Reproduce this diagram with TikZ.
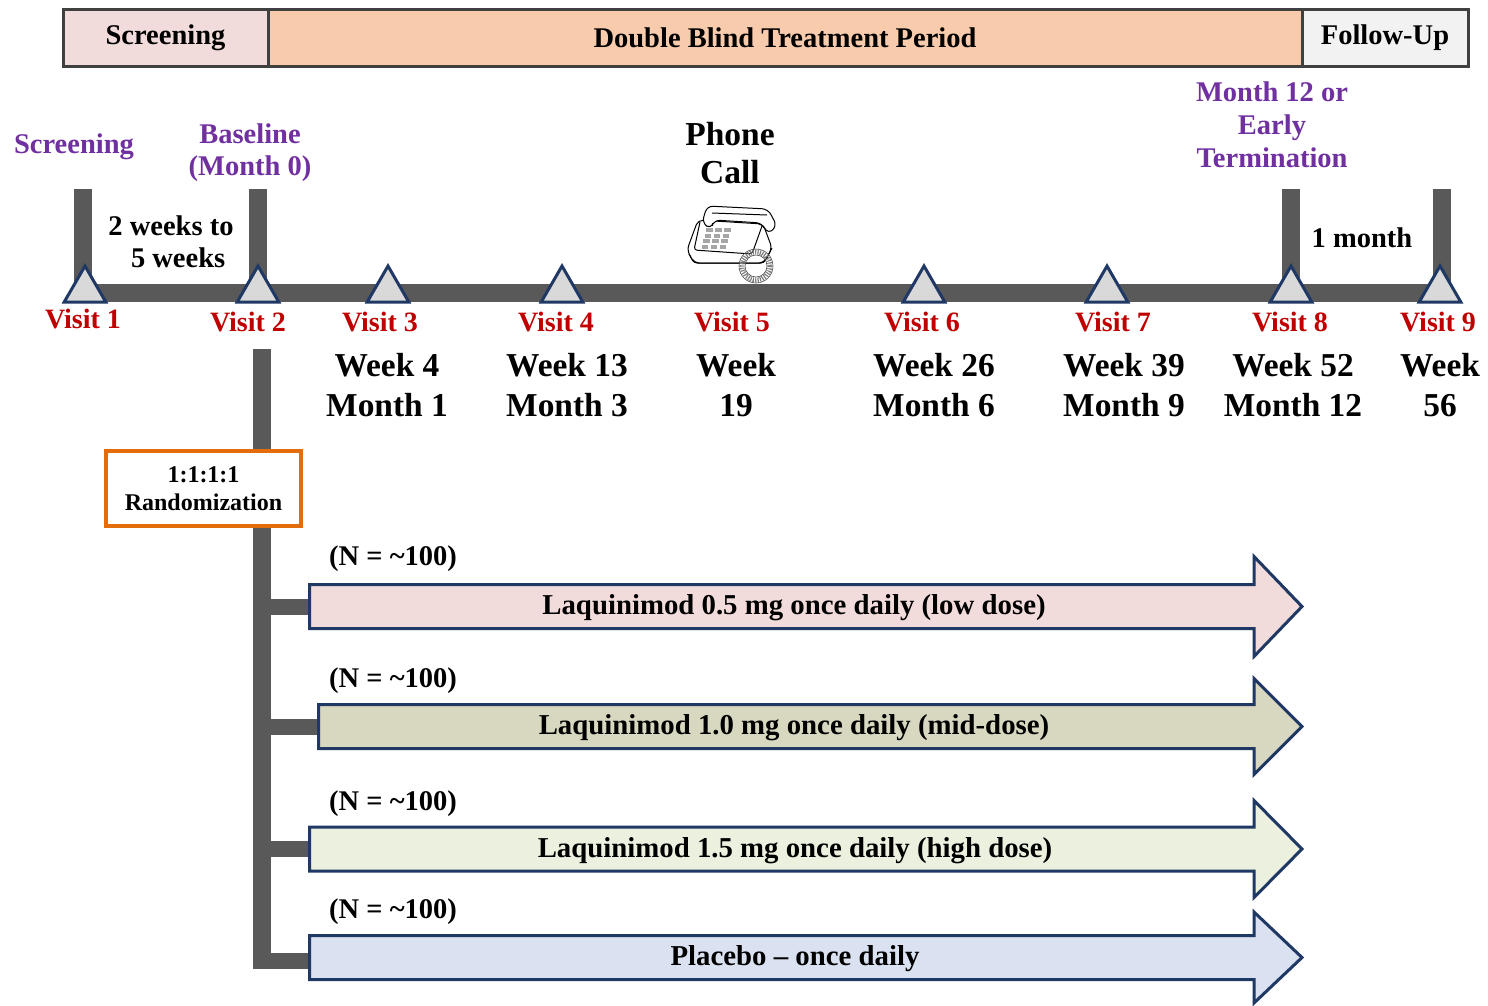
\documentclass[tikz,border=0pt]{standalone}
\usepackage{fontspec}
\setmainfont{Liberation Serif}
\usetikzlibrary{shapes.geometric}
\definecolor{bargray}{HTML}{595959}
\definecolor{phaseborder}{HTML}{404040}
\definecolor{pinkf}{HTML}{F2DCDB}
\definecolor{peachf}{HTML}{F8CBAD}
\definecolor{follf}{HTML}{F2F2F2}
\definecolor{navy}{HTML}{1F3864}
\definecolor{trigray}{HTML}{D9D9D9}
\definecolor{visred}{HTML}{C00000}
\definecolor{purp}{HTML}{7030A0}
\definecolor{orng}{HTML}{E46C0A}
\definecolor{olivef}{HTML}{D8D7BF}
\definecolor{greenf}{HTML}{EBF1DE}
\definecolor{bluef}{HTML}{DAE1F0}
\newcommand\treatarrow[5]{%
  \draw[armbox, fill=#4] (#1,{#2-22}) -- (1254,{#2-22}) -- (1254,{#2-#5}) -- (1302,#2)
    -- (1254,{#2+#5}) -- (1254,{#2+22}) -- (#1,{#2+22}) -- cycle;}
\tikzset{
  bar/.style={draw=bargray, line width=18},
  stub/.style={draw=bargray, line width=16},
  phase/.style={draw=phaseborder, line width=3, inner sep=0, minimum height=57,
    font=\fontsize{28.5}{33}\selectfont\bfseries},
  tri/.style={regular polygon, regular polygon sides=3, minimum size=48, inner sep=0,
    fill=trigray, draw=navy, line width=3},
  visit/.style={text=visred, inner sep=0, font=\fontsize{28}{33}\selectfont\bfseries},
  purplbl/.style={text=purp, inner sep=0, align=center, font=\fontsize{28.5}{33}\selectfont\bfseries},
  weeklbl/.style={inner sep=0, align=center, font=\fontsize{33.4}{40}\selectfont\bfseries},
  phonelbl/.style={inner sep=0, align=center, font=\fontsize{33.5}{38}\selectfont\bfseries},
  gaplbl/.style={inner sep=0, align=center, font=\fontsize{28.5}{32}\selectfont\bfseries},
  randbox/.style={draw=orng, line width=4, fill=white, minimum width=195, minimum height=75,
    inner sep=0, align=center, font=\fontsize{24}{28}\selectfont\bfseries},
  nlbl/.style={inner sep=0, anchor=west, font=\fontsize{28.5}{30}\selectfont\bfseries},
  armbox/.style={draw=navy, line width=3, line join=miter},
  armtxt/.style={inner sep=0, font=\fontsize{28.8}{30}\selectfont\bfseries},
  phoneline/.style={draw=black, line width=1, line join=round},
}
\begin{document}
\begin{tikzpicture}[x=1pt,y=-1pt]
\useasboundingbox (0,0) rectangle (1488,1005);
\fill[white] (0,0) rectangle (1488,1005);

% ---- phase bar ----
\node[phase, fill=peachf, minimum width=1034] (ph2) at (785,37.5) {Double Blind Treatment Period};
\node[phase, fill=pinkf, minimum width=205] (ph1) at (165.5,37.5) {Screening};
\node[phase, fill=follf, minimum width=166] (ph3) at (1385,37.5) {Follow-Up};

% ---- timeline ----
\coordinate (t1top) at (83,189);
\coordinate (t1) at (83,293);
\coordinate (t2top) at (258,189);
\coordinate (t2) at (258,293);
\coordinate (t8top) at (1291,189);
\coordinate (t8) at (1291,293);
\coordinate (t9top) at (1442,189);
\coordinate (t9) at (1442,293);
\draw[bar, line join=miter] (t1top) -- (t1) -- (t9) -- (t9top);
\draw[bar] (t2top) -- (t2);
\draw[bar] (t8top) -- (t8);

\node[tri] (v1) at (85,290) {};
\node[tri] (v2) at (258,290) {};
\node[tri] (v3) at (388,290) {};
\node[tri] (v4) at (562,290) {};
\node[tri] (v6) at (924,290) {};
\node[tri] (v7) at (1107,290) {};
\node[tri] (v8) at (1291,290) {};
\node[tri] (v9) at (1440,290) {};

% ---- phone ----
\draw[phoneline, fill=white, rounded corners=5] (687,250) -- (698,220) -- (763,224) -- (772,248) -- (764,263) -- (694,263) -- cycle;
\draw[phoneline, rounded corners=3] (689,254) -- (694,263) -- (764,263) -- (772,248);
\draw[phoneline, rounded corners=3] (700,222) -- (694,250) -- (752,254) -- (762,226);
\foreach \r in {0,1,2,3}{
  \foreach \c in {0,1,2}{
    \fill[gray!70] ({706+\c*9+\r*-1.5},{228+\r*5.5}) rectangle ++(6.5,4);
  }
}
\draw[phoneline, fill=white, rounded corners=6] (702,223) -- (707,206) -- (768,209) -- (777,226) -- (768,234) -- (762,223) -- (714,220) -- (711,229) -- cycle;
\draw[phoneline] (712,213) -- (767,215);
\draw[gray, line width=5, dash pattern=on 1.2 off 1.2] (756,266) circle (14);
\draw[black!70, line width=0.6] (756,266) circle (17);
\draw[black!70, line width=0.6] (756,266) circle (11);

% ---- top labels ----
\node[purplbl] (lscr) at (74,147) {Screening};
\node[purplbl, font=\fontsize{28.5}{32}\selectfont\bfseries] (lbase) at (250,153) {Baseline\\(Month 0)};
\node[purplbl] (lterm) at (1272,125) {Month 12 or\\Early\\Termination};
\node[phonelbl] (lphone) at (730,153) {Phone\\Call};
\node[gaplbl] (lgap1) at (171,242) {2 weeks to\\\ \ 5 weeks};
\node[gaplbl] (lgap2) at (1362,238) {1 month};

% ---- visit labels ----
\node[visit] (n1) at (83,319) {Visit 1};
\node[visit] (n2) at (248,322) {Visit 2};
\node[visit] (n3) at (380,322) {Visit 3};
\node[visit] (n4) at (556,322) {Visit 4};
\node[visit] (n5) at (732,322) {Visit 5};
\node[visit] (n6) at (922,322) {Visit 6};
\node[visit] (n7) at (1113,322) {Visit 7};
\node[visit] (n8) at (1290,322) {Visit 8};
\node[visit] (n9) at (1438,322) {Visit 9};

% ---- week labels ----
\node[weeklbl] (w3) at (387,385) {Week 4\\Month 1};
\node[weeklbl] (w4) at (567,385) {Week 13\\Month 3};
\node[weeklbl] (w5) at (736,385) {Week\\19};
\node[weeklbl] (w6) at (934,385) {Week 26\\Month 6};
\node[weeklbl] (w7) at (1124,385) {Week 39\\Month 9};
\node[weeklbl] (w8) at (1293,385) {Week 52\\Month 12};
\node[weeklbl] (w9) at (1440,385) {Week\\56};

% ---- randomisation tree ----
\coordinate (tt) at (262,349);
\coordinate (tb) at (262,969);
\node[randbox] (rand) at (203.5,488.5) {1:1:1:1\\Randomization};
\draw[bar] (tt) -- (tt |- rand.north);
\draw[bar] (tt |- rand.south) -- (tb);

\coordinate (s1) at (262,606.5);
\coordinate (s2) at (262,726.5);
\coordinate (s3) at (262,849);
\coordinate (s4) at (262,961);
\coordinate (a1w) at (312,606.5);
\coordinate (a2w) at (321,726.5);
\coordinate (a3w) at (312,849);
\coordinate (a4w) at (312,961);
\draw[stub] (s1) -- (a1w);
\draw[stub] (s2) -- (a2w);
\draw[stub] (s3) -- (a3w);
\draw[stub] (s4) -- (a4w);

\treatarrow{309.5}{606.5}{0}{pinkf}{50}
\treatarrow{318.5}{726.5}{0}{olivef}{48}
\treatarrow{309.5}{849}{0}{greenf}{48.5}
\treatarrow{309.5}{957.5}{0}{bluef}{45.5}

\node[armtxt] (arm1) at (794,608) {Laquinimod 0.5 mg once daily (low dose)};
\node[armtxt] (arm2) at (794,728) {Laquinimod 1.0 mg once daily (mid-dose)};
\node[armtxt] (arm3) at (795,850.5) {Laquinimod 1.5 mg once daily (high dose)};
\node[armtxt] (arm4) at (795,959) {Placebo -- once daily};

\node[nlbl] (N1) at (329,559) {(N = \textasciitilde100)};
\node[nlbl] (N2) at (329,681) {(N = \textasciitilde100)};
\node[nlbl] (N3) at (329,804) {(N = \textasciitilde100)};
\node[nlbl] (N4) at (329,912) {(N = \textasciitilde100)};
\end{tikzpicture}
\end{document}
